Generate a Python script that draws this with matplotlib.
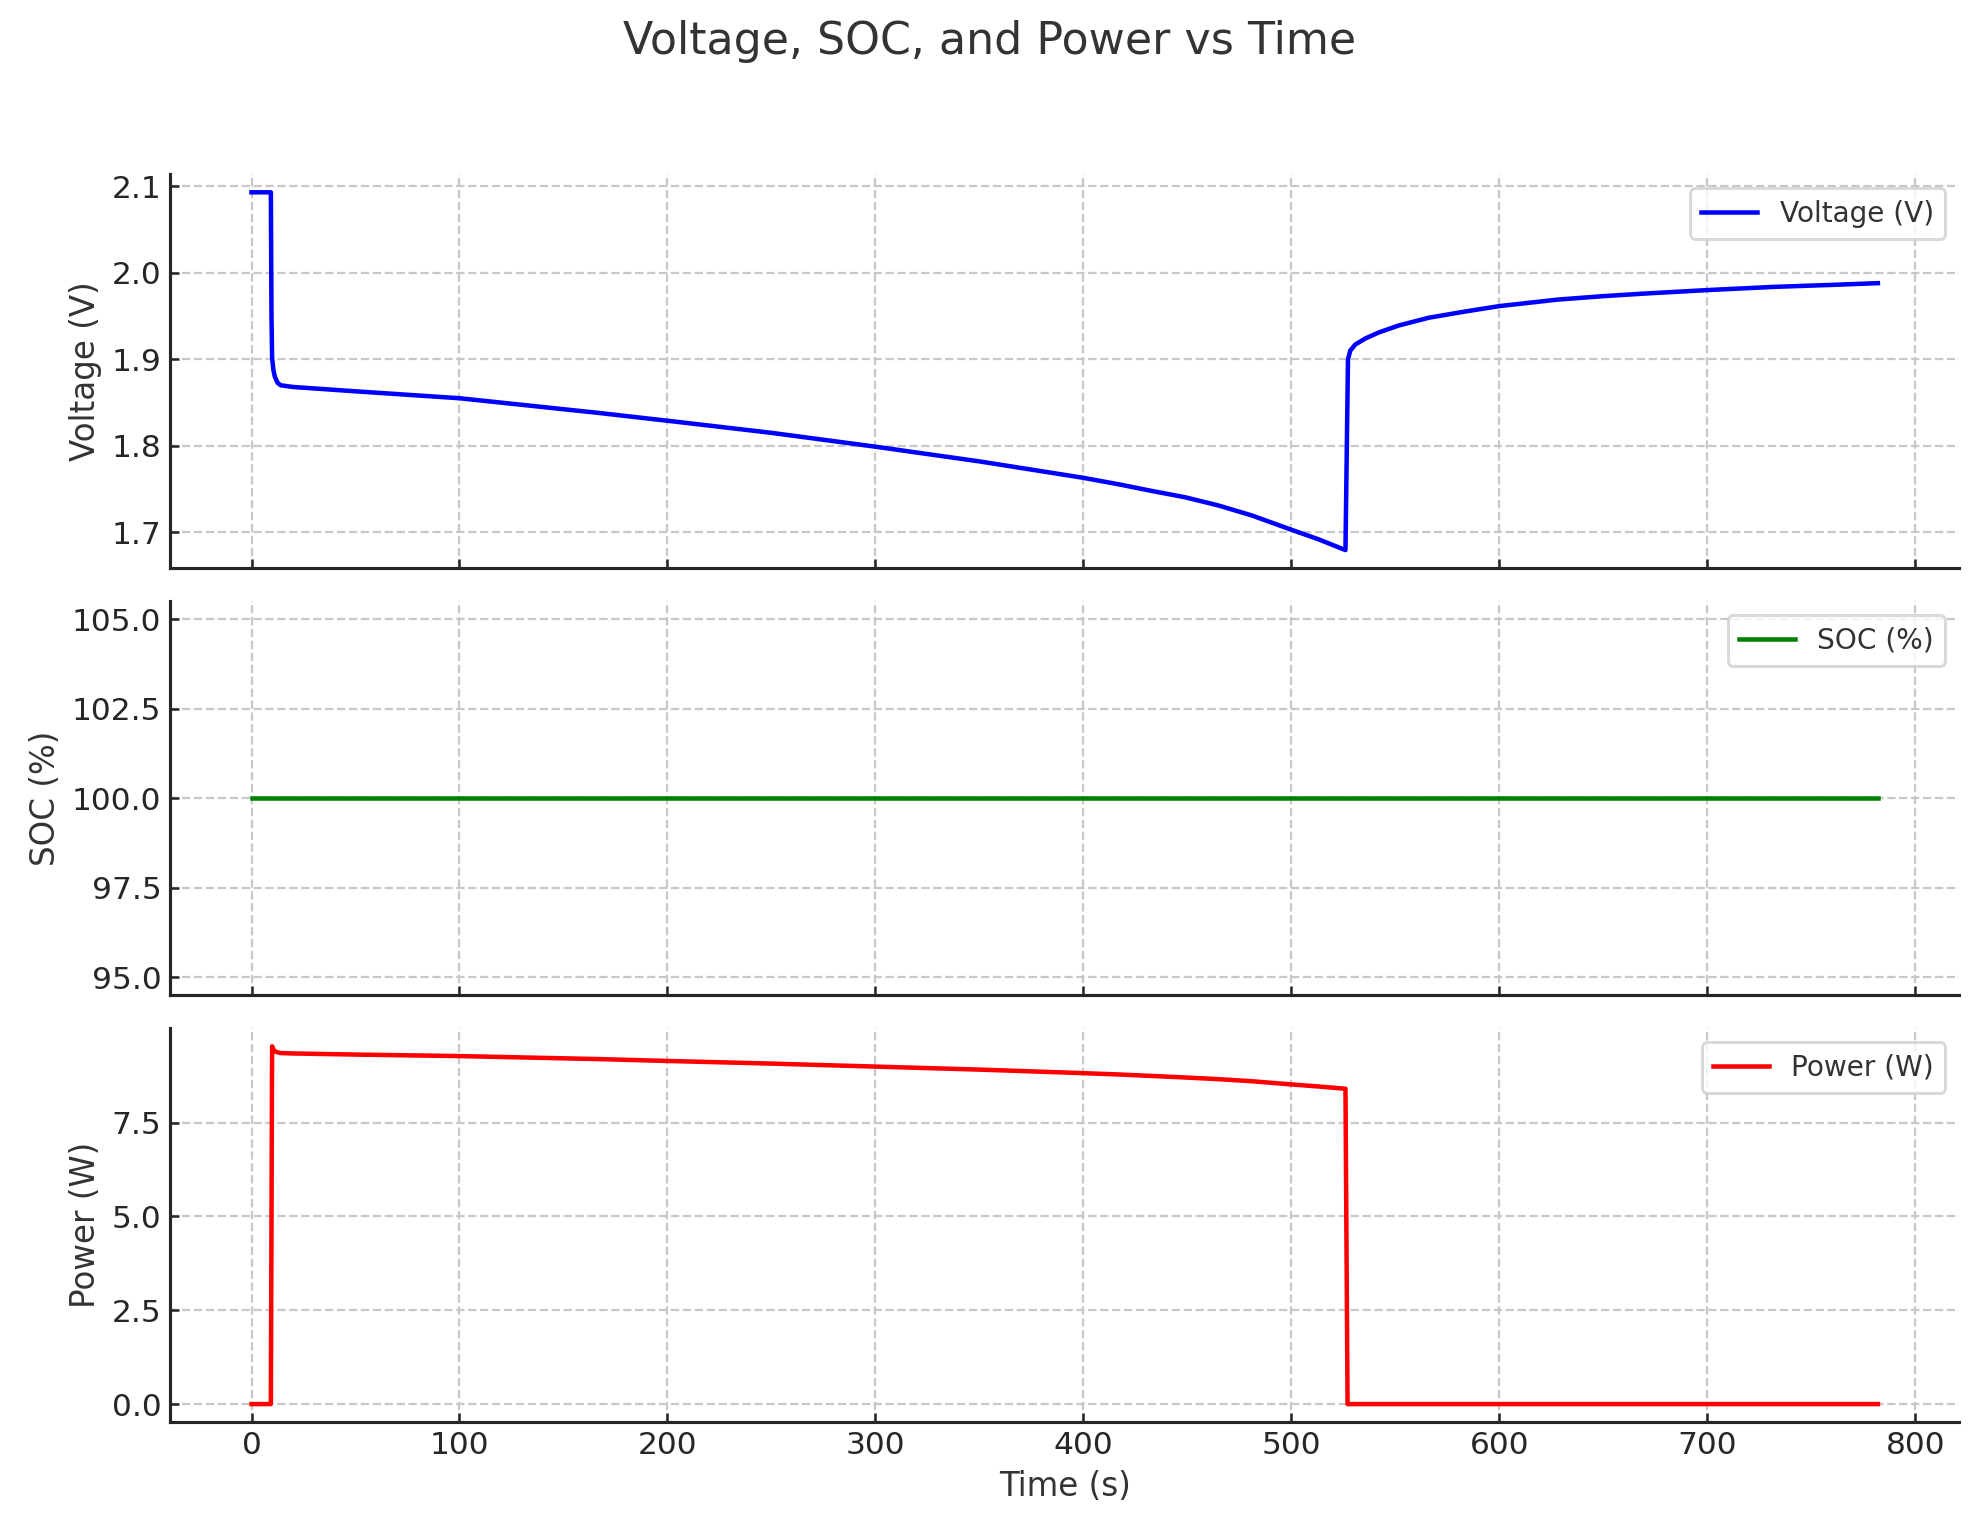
import matplotlib
matplotlib.use("Agg")
import matplotlib.pyplot as plt

# values
time_v = [0, 9.3, 9.6, 9.9, 10.5, 11.2, 12.5, 14, 20, 50, 100, 167, 200, 250,
          300, 350, 400, 417, 433, 449, 465, 481, 500, 513, 526, 527.2, 528.3,
          530.7, 535.5, 542, 551.5, 566, 583, 600, 628, 650, 670, 700, 732,
          760, 782]
voltage = [2.093, 2.093, 1.95, 1.902, 1.888, 1.880, 1.873, 1.870, 1.868,
           1.863, 1.855, 1.838, 1.829, 1.815, 1.799, 1.782, 1.763, 1.7555,
           1.7478, 1.7405, 1.7310, 1.7195, 1.703, 1.692, 1.6795, 1.900, 1.910,
           1.917, 1.924, 1.931, 1.939, 1.948, 1.955, 1.9615, 1.969, 1.973,
           1.976, 1.980, 1.9837, 1.986, 1.988]

time_soc = [0, 782]
soc = [100.0, 100.0]

time_p = [0, 9.3, 9.9, 10.5, 11.2, 12.5, 14, 20, 50, 100, 167, 200, 250, 300,
          350, 400, 417, 433, 449, 465, 481, 500, 513, 526, 527, 782]
power = [0.0, 0.0, 9.53, 9.44, 9.40, 9.37, 9.35, 9.34, 9.31, 9.27, 9.19, 9.14,
         9.07, 8.99, 8.91, 8.815, 8.78, 8.74, 8.70, 8.655, 8.60, 8.515, 8.46,
         8.40, 0.0, 0.0]

TEXT = "#333333"
plt.rcParams.update({
    "font.family": "DejaVu Sans",
    "text.color": TEXT,
    "axes.labelcolor": TEXT,
    "xtick.color": "#262626",
    "ytick.color": "#262626",
    "xtick.labelcolor": "#262626",
    "ytick.labelcolor": "#262626",
    "xtick.direction": "in",
    "ytick.direction": "in",
    "xtick.major.size": 3.7,
    "ytick.major.size": 3.7,
    "xtick.major.width": 1.0,
    "ytick.major.width": 1.0,
    "axes.edgecolor": "#262626",
    "axes.linewidth": 1.25,
})

fig, axes = plt.subplots(3, 1, figsize=(1979 / 180, 1530 / 180), dpi=180, sharex=True)
fig.subplots_adjust(left=0.086, right=0.99, top=0.886, bottom=0.0706, hspace=0.085)

panels = [
    (axes[0], time_v, voltage, "blue", "Voltage (V)"),
    (axes[1], time_soc, soc, "green", "SOC (%)"),
    (axes[2], time_p, power, "red", "Power (W)"),
]

for ax, t, y, color, label in panels:
    ax.plot(t, y, color=color, linewidth=1.8, label=label)
    ax.set_ylabel(label, fontsize=13)
    ax.grid(True, linestyle="--", color="#c8c8c8", linewidth=0.9)
    ax.spines["top"].set_visible(False)
    ax.spines["right"].set_visible(False)
    ax.tick_params(labelsize=12.5)
    leg = ax.legend(loc="upper right", fontsize=11.2, frameon=True, fancybox=True)
    leg.get_frame().set_edgecolor("#d0d0d0")
    leg.get_frame().set_linewidth(1.2)

axes[0].set_yticks([1.7, 1.8, 1.9, 2.0, 2.1])
axes[1].set_yticks([95.0, 97.5, 100.0, 102.5, 105.0])
axes[2].set_yticks([0.0, 2.5, 5.0, 7.5])
axes[2].set_xticks([0, 100, 200, 300, 400, 500, 600, 700, 800])
axes[2].set_xlabel("Time (s)", fontsize=13)

fig.suptitle("Voltage, SOC, and Power vs Time", fontsize=17.7, y=0.987, va="top")

fig.savefig("out.png", dpi=180)
